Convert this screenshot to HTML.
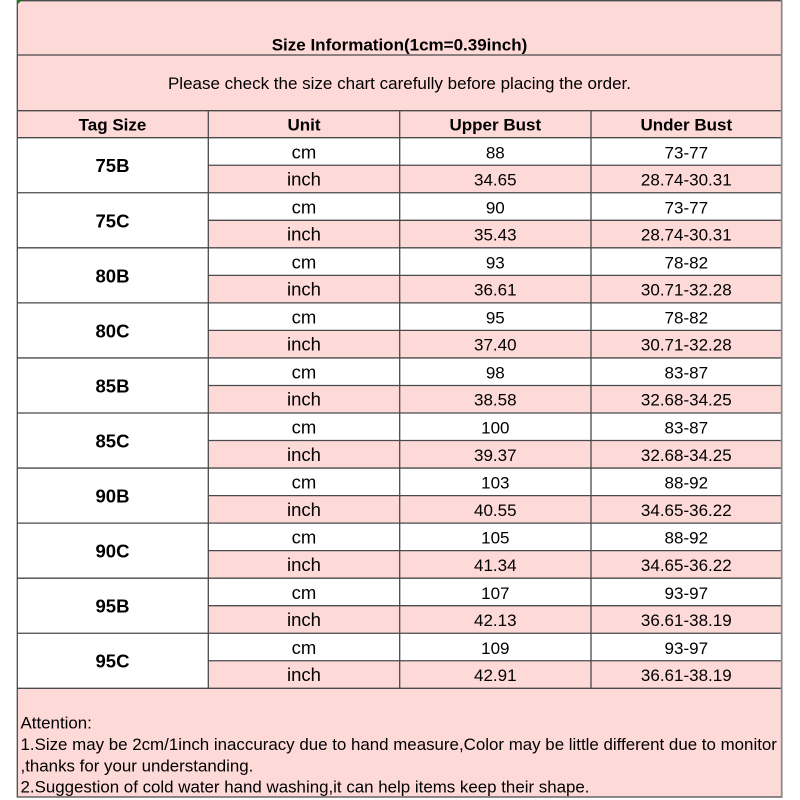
<!DOCTYPE html>
<html><head><meta charset="utf-8"><style>
html,body{margin:0;padding:0;background:#fff;}
svg{display:block;}
text{font-family:"Liberation Sans",Arial,sans-serif;fill:#000;}
.b{font-weight:bold;}
.t{font-size:17px;text-anchor:middle;}
.tag{font-size:18.5px;font-weight:bold;text-anchor:middle;}
.u{font-size:18.5px;text-anchor:middle;}
.n{font-size:17px;text-anchor:middle;}
.f{font-size:16.9px;}
</style></head><body>
<svg width="800" height="800" viewBox="0 0 800 800" xmlns="http://www.w3.org/2000/svg">
<rect x="0" y="0" width="800" height="800" fill="#fff"/>
<g fill="#fdd9d8">
<rect x="17" y="0" width="765" height="137.7"/>
<rect x="208" y="165.23" width="574" height="27.53"/>
<rect x="208" y="220.29" width="574" height="27.53"/>
<rect x="208" y="275.35" width="574" height="27.53"/>
<rect x="208" y="330.41" width="574" height="27.53"/>
<rect x="208" y="385.47" width="574" height="27.53"/>
<rect x="208" y="440.53" width="574" height="27.53"/>
<rect x="208" y="495.59" width="574" height="27.53"/>
<rect x="208" y="550.65" width="574" height="27.53"/>
<rect x="208" y="605.71" width="574" height="27.53"/>
<rect x="208" y="660.77" width="574" height="27.53"/>
<rect x="17" y="688.3" width="765" height="109"/>
</g>
<g stroke="#4a4a4a" stroke-width="1.3" fill="none">
<line x1="17" y1="0.7" x2="782" y2="0.7"/>
<line x1="17" y1="55" x2="782" y2="55"/>
<line x1="17" y1="110.7" x2="782" y2="110.7"/>
<line x1="17" y1="137.7" x2="782" y2="137.7"/>
<line x1="17" y1="192.76" x2="782" y2="192.76"/>
<line x1="17" y1="247.82" x2="782" y2="247.82"/>
<line x1="17" y1="302.88" x2="782" y2="302.88"/>
<line x1="17" y1="357.94" x2="782" y2="357.94"/>
<line x1="17" y1="413" x2="782" y2="413"/>
<line x1="17" y1="468.06" x2="782" y2="468.06"/>
<line x1="17" y1="523.12" x2="782" y2="523.12"/>
<line x1="17" y1="578.18" x2="782" y2="578.18"/>
<line x1="17" y1="633.24" x2="782" y2="633.24"/>
<line x1="17" y1="688.3" x2="782" y2="688.3"/>
<line x1="208" y1="165.23" x2="782" y2="165.23"/>
<line x1="208" y1="220.29" x2="782" y2="220.29"/>
<line x1="208" y1="275.35" x2="782" y2="275.35"/>
<line x1="208" y1="330.41" x2="782" y2="330.41"/>
<line x1="208" y1="385.47" x2="782" y2="385.47"/>
<line x1="208" y1="440.53" x2="782" y2="440.53"/>
<line x1="208" y1="495.59" x2="782" y2="495.59"/>
<line x1="208" y1="550.65" x2="782" y2="550.65"/>
<line x1="208" y1="605.71" x2="782" y2="605.71"/>
<line x1="208" y1="660.77" x2="782" y2="660.77"/>
<line x1="17.3" y1="0" x2="17.3" y2="797.5"/>
<line x1="208.3" y1="110.7" x2="208.3" y2="688.3"/>
<line x1="399.7" y1="110.7" x2="399.7" y2="688.3"/>
<line x1="591" y1="110.7" x2="591" y2="688.3"/>
<line x1="17" y1="797" x2="782" y2="797"/>
</g>
<line x1="781.7" y1="0" x2="781.7" y2="798" stroke="#8c8c8c" stroke-width="1.8"/>
<polygon points="17,0 22,0 17,5" fill="#1e7a1e"/>

<text class="t b" x="399.5" y="50.5">Size Information(1cm=0.39inch)</text>
<text class="t" x="399.5" y="89">Please check the size chart carefully before placing the order.</text>
<text class="t b" x="112.5" y="130.3">Tag Size</text>
<text class="t b" x="304" y="130.3">Unit</text>
<text class="t b" x="495.3" y="130.3">Upper Bust</text>
<text class="t b" x="686.3" y="130.3">Under Bust</text>

<text class="tag" x="112.5" y="172.2">75B</text>
<text class="tag" x="112.5" y="227.26">75C</text>
<text class="tag" x="112.5" y="282.32">80B</text>
<text class="tag" x="112.5" y="337.38">80C</text>
<text class="tag" x="112.5" y="392.44">85B</text>
<text class="tag" x="112.5" y="447.5">85C</text>
<text class="tag" x="112.5" y="502.56">90B</text>
<text class="tag" x="112.5" y="557.62">90C</text>
<text class="tag" x="112.5" y="612.68">95B</text>
<text class="tag" x="112.5" y="667.74">95C</text>

<g class="u">
<text class="u" x="304" y="158.3">cm</text><text class="u" x="304" y="185.5">inch</text>
<text class="u" x="304" y="213.36">cm</text><text class="u" x="304" y="240.56">inch</text>
<text class="u" x="304" y="268.42">cm</text><text class="u" x="304" y="295.62">inch</text>
<text class="u" x="304" y="323.48">cm</text><text class="u" x="304" y="350.68">inch</text>
<text class="u" x="304" y="378.54">cm</text><text class="u" x="304" y="405.74">inch</text>
<text class="u" x="304" y="433.6">cm</text><text class="u" x="304" y="460.8">inch</text>
<text class="u" x="304" y="488.66">cm</text><text class="u" x="304" y="515.86">inch</text>
<text class="u" x="304" y="543.72">cm</text><text class="u" x="304" y="570.92">inch</text>
<text class="u" x="304" y="598.78">cm</text><text class="u" x="304" y="625.98">inch</text>
<text class="u" x="304" y="653.84">cm</text><text class="u" x="304" y="681.04">inch</text>
</g>

<text class="n" x="495.3" y="158.3">88</text><text class="n" x="495.3" y="185.5">34.65</text>
<text class="n" x="495.3" y="213.36">90</text><text class="n" x="495.3" y="240.56">35.43</text>
<text class="n" x="495.3" y="268.42">93</text><text class="n" x="495.3" y="295.62">36.61</text>
<text class="n" x="495.3" y="323.48">95</text><text class="n" x="495.3" y="350.68">37.40</text>
<text class="n" x="495.3" y="378.54">98</text><text class="n" x="495.3" y="405.74">38.58</text>
<text class="n" x="495.3" y="433.6">100</text><text class="n" x="495.3" y="460.8">39.37</text>
<text class="n" x="495.3" y="488.66">103</text><text class="n" x="495.3" y="515.86">40.55</text>
<text class="n" x="495.3" y="543.72">105</text><text class="n" x="495.3" y="570.92">41.34</text>
<text class="n" x="495.3" y="598.78">107</text><text class="n" x="495.3" y="625.98">42.13</text>
<text class="n" x="495.3" y="653.84">109</text><text class="n" x="495.3" y="681.04">42.91</text>

<text class="n" x="686.3" y="158.3">73-77</text><text class="n" x="686.3" y="185.5">28.74-30.31</text>
<text class="n" x="686.3" y="213.36">73-77</text><text class="n" x="686.3" y="240.56">28.74-30.31</text>
<text class="n" x="686.3" y="268.42">78-82</text><text class="n" x="686.3" y="295.62">30.71-32.28</text>
<text class="n" x="686.3" y="323.48">78-82</text><text class="n" x="686.3" y="350.68">30.71-32.28</text>
<text class="n" x="686.3" y="378.54">83-87</text><text class="n" x="686.3" y="405.74">32.68-34.25</text>
<text class="n" x="686.3" y="433.6">83-87</text><text class="n" x="686.3" y="460.8">32.68-34.25</text>
<text class="n" x="686.3" y="488.66">88-92</text><text class="n" x="686.3" y="515.86">34.65-36.22</text>
<text class="n" x="686.3" y="543.72">88-92</text><text class="n" x="686.3" y="570.92">34.65-36.22</text>
<text class="n" x="686.3" y="598.78">93-97</text><text class="n" x="686.3" y="625.98">36.61-38.19</text>
<text class="n" x="686.3" y="653.84">93-97</text><text class="n" x="686.3" y="681.04">36.61-38.19</text>

<text class="f" x="20.5" y="728.5">Attention:</text>
<text class="f" x="20.5" y="750">1.Size may be 2cm/1inch inaccuracy due to hand measure,Color may be little different due to monitor</text>
<text class="f" x="20.5" y="771.5">,thanks for your understanding.</text>
<text class="f" x="20.5" y="792.5">2.Suggestion of cold water hand washing,it can help items keep their shape.</text>
</svg>
</body></html>
